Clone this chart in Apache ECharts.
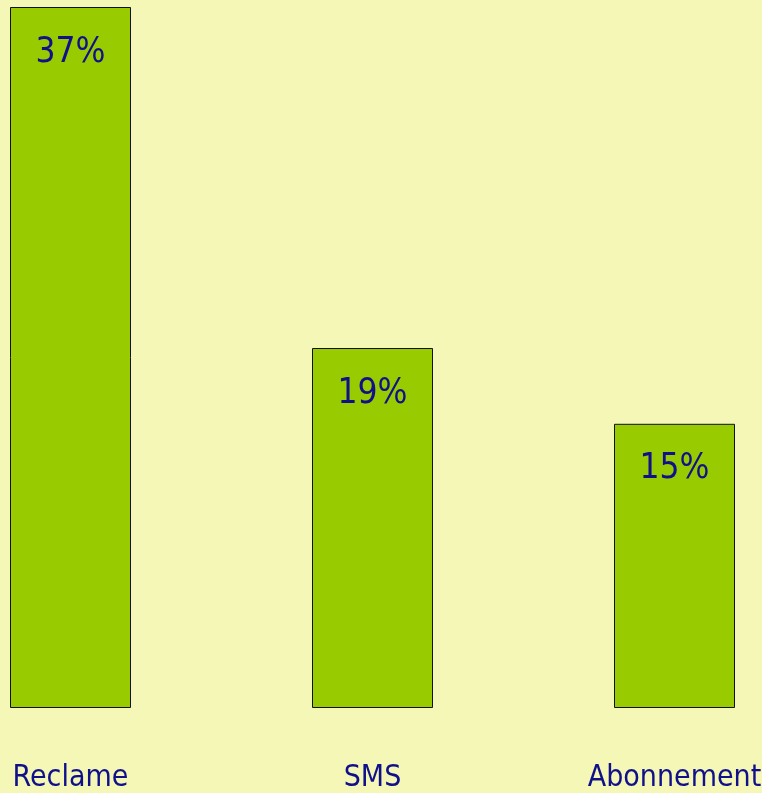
<!DOCTYPE html>
<html><head><meta charset="utf-8">
<script src="https://cdn.jsdelivr.net/npm/echarts@6/dist/echarts.min.js"></script>
<style>html,body{margin:0;padding:0;background:#f5f7b6;}#c{width:762px;height:793px;}</style>
</head><body><div id="c"></div>
<script>
const categories = ['Reclame', 'SMS', 'Abonnement'];
const values = [37, 19, 15];
const font = '"Liberation Sans Narrow", "DejaVu Sans Condensed", sans-serif';
const chart = echarts.init(document.getElementById('c'), null, {renderer: 'canvas'});
chart.setOption({
  backgroundColor: '#f5f7b6',
  animation: false,
  grid: {left: 70.5, right: 87.5, top: 7, bottom: 85, containLabel: false, outerBoundsMode: 'none'},
  xAxis: {
    type: 'category', data: categories, boundaryGap: false,
    axisLine: {show: false}, axisTick: {show: false}, splitLine: {show: false},
    axisLabel: {color: '#10108a', fontFamily: font, fontSize: 30, margin: 55, interval: 0, hideOverlap: false}
  },
  yAxis: {type: 'value', min: 0, max: 37, show: false, splitLine: {show: false}},
  series: [{
    type: 'bar', data: values, barWidth: 121,
    itemStyle: {color: '#99cc00', borderColor: '#111', borderWidth: 1},
    label: {show: true, position: 'insideTop', distance: 28, formatter: '{c}%',
      color: '#10108a', fontFamily: font, fontSize: 35}
  }]
});
</script></body></html>
